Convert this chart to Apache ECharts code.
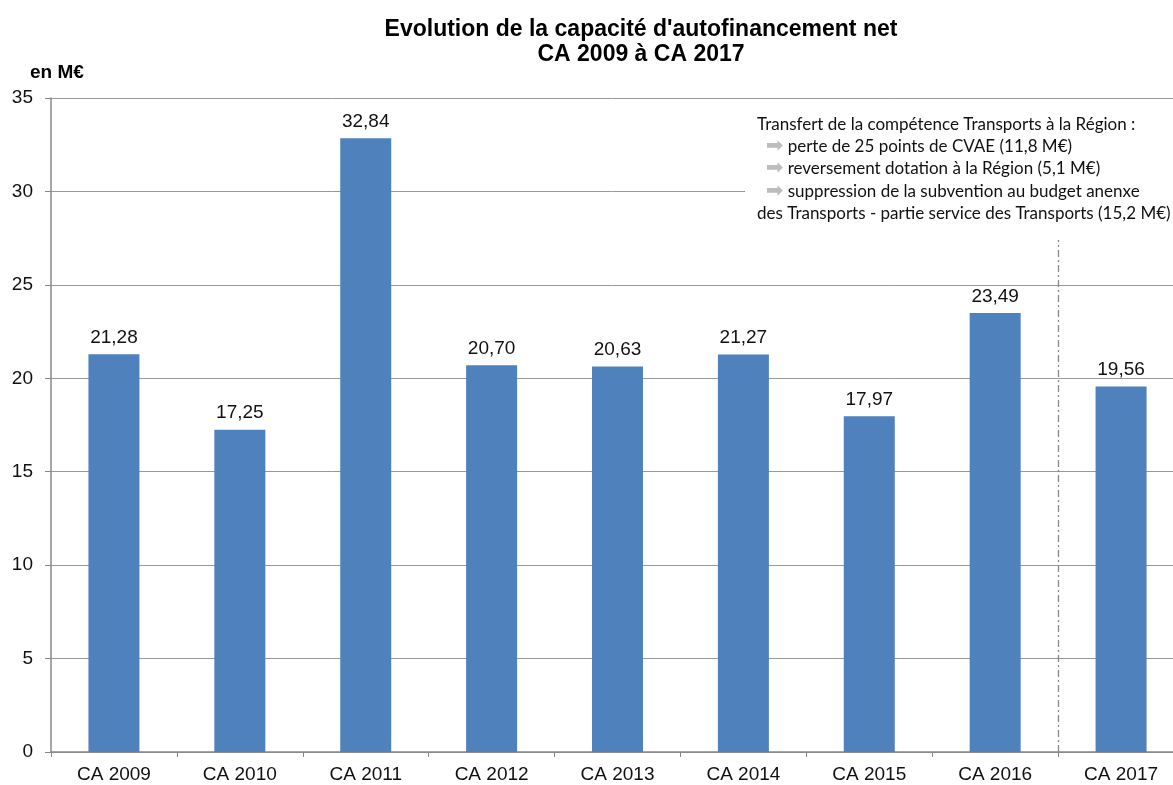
<!DOCTYPE html>
<html><head><meta charset="utf-8">
<script src="https://cdn.jsdelivr.net/npm/echarts@6/dist/echarts.min.js"></script>
<style>html,body{margin:0;padding:0;background:#fff}#c{width:1173px;height:785px}</style>
</head><body><div id="c"></div>
<script>
const categories = ['CA 2009','CA 2010','CA 2011','CA 2012','CA 2013','CA 2014','CA 2015','CA 2016','CA 2017'];
const values = [21.28, 17.25, 32.84, 20.70, 20.63, 21.27, 17.97, 23.49, 19.56];
const yTicks = [0, 5, 10, 15, 20, 25, 30, 35];
const separatorPos = 8;      // boundary between CA 2016 and CA 2017 (in category units)
const separatorTop = 27.4;   // top of the separator line in M€
const noteLines = [
  'Transfert de la compétence Transports à la Région :',
  'perte de 25 points de CVAE (11,8 M€)',
  'reversement dotation à la Région (5,1 M€)',
  'suppression de la subvention au budget anenxe',
  'des Transports - partie service des Transports (15,2 M€)'
];

const chart = echarts.init(document.getElementById('c'));
const F = '"Liberation Sans", Arial, sans-serif';
const noteText = [
  noteLines[0],
  '  {a|➡} ' + noteLines[1],
  '  {a|➡} ' + noteLines[2],
  '  {a|➡} ' + noteLines[3],
  noteLines[4]
].join('\n');

chart.setOption({
  animation: false,
  backgroundColor: '#fff',
  title: {
    text: 'Evolution de la capacité d\'autofinancement net\nCA 2009 à CA 2017',
    left: 636, top: 12, textAlign: 'center',
    textStyle: { fontFamily: F, fontSize: 23, fontWeight: 'bold', color: '#000', lineHeight: 25 }
  },
  grid: { left: 51, top: 98, width: 1133, height: 654, containLabel: false, outerBoundsMode: 'none' },
  xAxis: [{
    type: 'category', data: categories,
    axisLine: { lineStyle: { color: '#888', width: 1.5 } },
    axisTick: { show: true, alignWithLabel: false, length: 5, lineStyle: { color: '#888' } },
    axisLabel: { fontFamily: F, fontSize: 19, color: '#111', margin: 13 }
  }, {
    type: 'value', min: 0, max: categories.length, show: false, position: 'bottom'
  }],
  yAxis: {
    type: 'value', min: 0, max: 35, interval: 5,
    name: 'en M€', nameLocation: 'end', nameGap: 16,
    nameTextStyle: { fontFamily: F, fontSize: 19, fontWeight: 'bold', color: '#000', align: 'left', padding: [0, 0, 0, -21] },
    axisLine: { show: true, lineStyle: { color: '#888', width: 1.5 } },
    axisTick: { show: true, length: 6, lineStyle: { color: '#888' } },
    axisLabel: { fontFamily: F, fontSize: 19, color: '#111', margin: 18,
      formatter: v => yTicks.includes(v) ? String(v) : '' },
    splitLine: { lineStyle: { color: '#999', width: 1 } }
  },
  series: [{
    type: 'bar', data: values, barWidth: 51, xAxisIndex: 0,
    itemStyle: { color: '#4F81BD' },
    label: { show: true, position: 'top', distance: 7, fontFamily: F, fontSize: 19, color: '#111',
      formatter: p => p.value.toFixed(2).replace('.', ',') }
  }, {
    type: 'line', xAxisIndex: 1, data: [], silent: true,
    markLine: {
      symbol: 'none', silent: true, label: { show: false },
      lineStyle: { color: '#888', width: 1.3, type: [7, 3, 2, 3] },
      data: [[{ coord: [separatorPos, 0] }, { coord: [separatorPos, separatorTop] }]]
    }
  }],
  graphic: [{
    type: 'rect', shape: { x: 745, y: 108, width: 440, height: 124 },
    style: { fill: '#fff' }, z: 50
  }, {
    type: 'text', left: 757, top: 113, z: 51,
    style: {
      text: noteText,
      fontFamily: 'Lato, "Open Sans", sans-serif', fontSize: 17, lineHeight: 22.3, fill: '#111',
      rich: { a: { fill: '#bdbdbd', fontFamily: '"DejaVu Sans", sans-serif', fontSize: 21, lineHeight: 22.3 } }
    }
  }]
});
</script></body></html>
